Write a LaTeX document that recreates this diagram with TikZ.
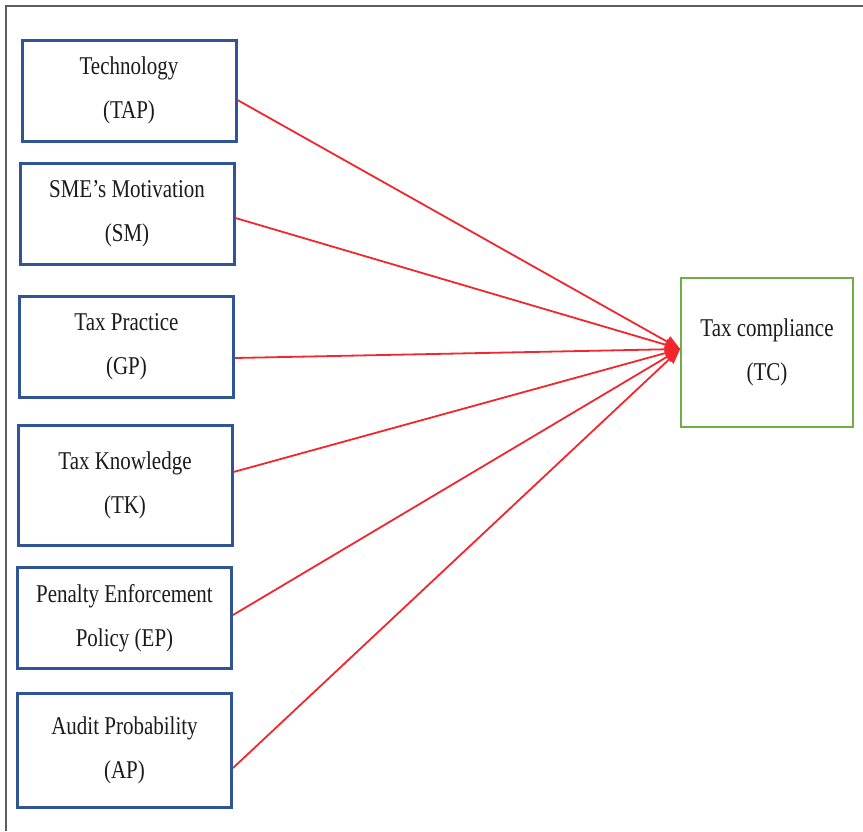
\documentclass[tikz,border=0pt]{standalone}
\usepackage{fontspec}
\setmainfont[FakeStretch=0.82]{Liberation Serif}
\usetikzlibrary{arrows.meta, positioning, calc}
\definecolor{Frame}{HTML}{5E5E5E}
\definecolor{BoxBlue}{HTML}{2F5597}
\definecolor{BoxGreen}{HTML}{70AD47}
\definecolor{Link}{HTML}{F2262C}
\definecolor{Text}{HTML}{1A1A1A}

\begin{document}
\begin{tikzpicture}[x=0.5pt,y=-0.5pt,font=\fontsize{12.8}{22}\selectfont,text=Text,var/.style={draw=BoxBlue,line width=1.5pt,minimum width=107pt,minimum height=50.5pt,align=center,inner sep=0pt},target/.style={draw=BoxGreen,line width=0.8pt,minimum width=86pt,minimum height=74.5pt,align=center,inner sep=0pt},link/.style={-{Triangle[length=7.5pt,width=6pt]},line width=0.9pt,draw=Link}]
\useasboundingbox (0,0) rectangle (863,831);
\draw[Frame,line width=1pt] (6,831) -- (6,6) -- (863,6);
\node[var] (tap) at (129,90.5){Technology\\(TAP)};
\node[var] (sm) at (127,214){SME’s Motivation\\(SM)};
\node[var] (gp) at (126.5,346.5){Tax Practice\\(GP)};
\node[var,minimum height=60pt] (tk) at (125,485){Tax Knowledge\\(TK)};
\node[var] (ep) at (124.5,618){Penalty Enforcement\\Policy (EP)};
\node[var,minimum height=57pt] (ap) at (124.5,750){Audit Probability\\(AP)};
\node[target] (tc) at (767,352.5){Tax compliance\\(TC)};
\coordinate (hit) at ([yshift=1.75pt]tc.west);
\draw[link] ([yshift=-4.75pt]tap.east) -- (hit);\draw[link] ([yshift=-2pt]sm.east) -- (hit);\draw[link] ([yshift=-5.75pt]gp.east) -- (hit);
\draw[link] ([yshift=6.5pt]tk.east) -- (hit);\draw[link] ([yshift=1.5pt]ep.east) -- (hit);\draw[link] ([yshift=-9pt]ap.east) -- (hit);
\end{tikzpicture}
\end{document}
